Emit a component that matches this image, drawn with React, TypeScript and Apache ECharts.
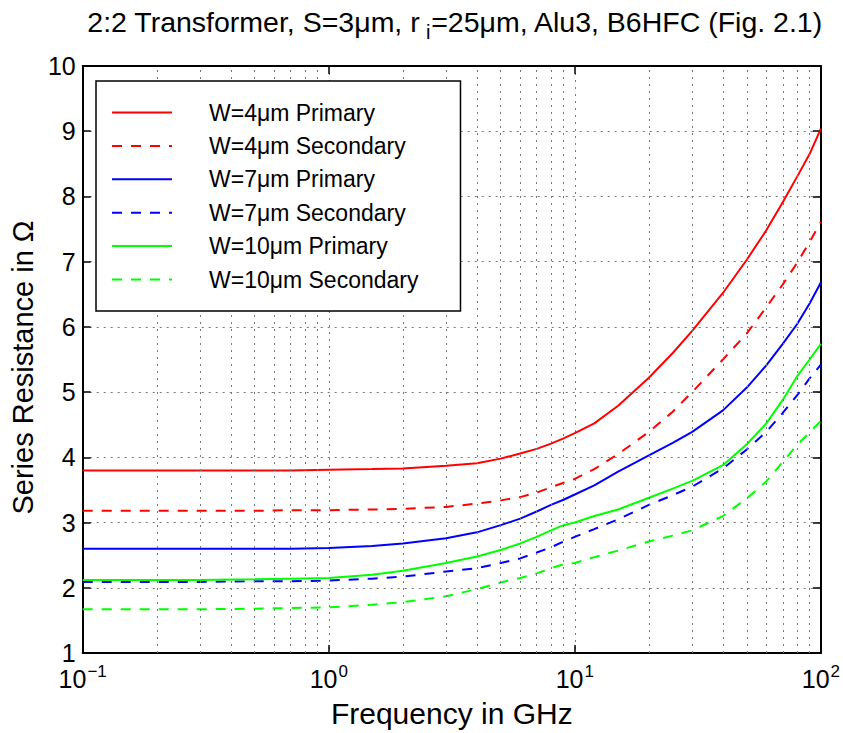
import React, { useEffect, useRef } from "react";
import * as echarts from "echarts";

const freqs = [0.1, 0.2, 0.3, 0.5, 0.7, 1, 1.5, 2, 3, 4, 5, 6, 7, 8, 9, 10, 12, 15, 20, 25, 30, 40, 50, 60, 70, 80, 90, 100];

const w4Primary = [3.80, 3.80, 3.80, 3.80, 3.80, 3.81, 3.82, 3.83, 3.87, 3.91, 3.98, 4.06, 4.13, 4.21, 4.29, 4.37, 4.52, 4.79, 5.22, 5.60, 5.94, 6.52, 7.03, 7.48, 7.91, 8.30, 8.65, 9.04];
const w4Secondary = [3.18, 3.18, 3.18, 3.18, 3.19, 3.19, 3.20, 3.21, 3.24, 3.29, 3.34, 3.39, 3.46, 3.54, 3.61, 3.67, 3.82, 4.05, 4.39, 4.70, 5.00, 5.50, 5.90, 6.30, 6.65, 6.98, 7.30, 7.61];
const w7Primary = [2.60, 2.60, 2.60, 2.60, 2.60, 2.61, 2.64, 2.68, 2.76, 2.85, 2.96, 3.06, 3.17, 3.27, 3.35, 3.43, 3.57, 3.78, 4.03, 4.22, 4.39, 4.72, 5.07, 5.41, 5.74, 6.04, 6.36, 6.68];
const w7Secondary = [2.09, 2.09, 2.09, 2.10, 2.10, 2.11, 2.14, 2.17, 2.25, 2.30, 2.38, 2.45, 2.54, 2.62, 2.71, 2.78, 2.90, 3.05, 3.27, 3.42, 3.55, 3.83, 4.12, 4.39, 4.68, 4.95, 5.21, 5.42];
const w10Primary = [2.12, 2.12, 2.12, 2.13, 2.14, 2.15, 2.20, 2.26, 2.38, 2.48, 2.58, 2.68, 2.78, 2.88, 2.96, 3.00, 3.10, 3.20, 3.38, 3.52, 3.64, 3.88, 4.20, 4.52, 4.88, 5.24, 5.50, 5.74];
const w10Secondary = [1.67, 1.67, 1.67, 1.68, 1.69, 1.70, 1.74, 1.78, 1.87, 1.98, 2.08, 2.15, 2.22, 2.30, 2.36, 2.38, 2.47, 2.57, 2.71, 2.80, 2.88, 3.10, 3.37, 3.63, 3.93, 4.19, 4.38, 4.56];

const seriesNames = [
  "W=4μm Primary",
  "W=4μm Secondary",
  "W=7μm Primary",
  "W=7μm Secondary",
  "W=10μm Primary",
  "W=10μm Secondary",
];
const seriesValues = [w4Primary, w4Secondary, w7Primary, w7Secondary, w10Primary, w10Secondary];
const seriesColors = ["#ff0000", "#ff0000", "#0000ff", "#0000ff", "#00ff00", "#00ff00"];
const seriesDashed = [false, true, false, true, false, true];

const minorGridFreqs = [0.2, 0.3, 0.4, 0.5, 0.6, 0.7, 0.8, 0.9, 2, 3, 4, 5, 6, 7, 8, 9, 20, 30, 40, 50, 60, 70, 80, 90];

const FONT = "Liberation Sans, Arial, Helvetica, sans-serif";
const DOT: any = { type: [2, 5], color: "#777", width: 1 };

export default function App() {
  const ref = useRef<HTMLDivElement>(null);
  useEffect(() => {
    document.body.style.margin = "0";
    const chart = echarts.init(ref.current!, undefined, { renderer: "svg" });
    const expLabel = (v: number) => {
      const e = Math.round(Math.log10(v));
      const s = e < 0 ? "−" + -e : String(e);
      return "{b|10}{e|" + s + "}";
    };
    const lineSeries = seriesNames.map((name, i) => ({
      name,
      type: "line",
      data: freqs.map((f, j) => [f, seriesValues[i][j]]),
      symbol: "none",
      showSymbol: false,
      smooth: false,
      z: 3,
      lineStyle: {
        color: seriesColors[i],
        width: 2,
        type: seriesDashed[i] ? [10, 9] : "solid",
      },
      itemStyle: { color: seriesColors[i] },
    }));
    chart.setOption({
      animation: false,
      backgroundColor: "#fff",
      title: {
        text: "{a|2:2 Transformer, S=3μm, r}{s|i}{a|=25μm, Alu3, B6HFC (Fig. 2.1)}",
        left: 455,
        top: 7,
        padding: 0,
        textAlign: "center",
        textStyle: {
          fontWeight: "normal",
          rich: {
            a: { fontFamily: FONT, fontSize: 28.5, fontWeight: "normal", color: "#000", lineHeight: 30, verticalAlign: "top" },
            s: { fontFamily: FONT, fontSize: 20, fontWeight: "normal", color: "#000", lineHeight: 35, padding: [0, 0, 0, 6], verticalAlign: "bottom" },
          },
        },
      },
      legend: {
        data: seriesNames,
        orient: "vertical",
        left: 96,
        top: 81,
        padding: [20, 42, 20, 15],
        itemWidth: 60,
        itemHeight: 14,
        itemGap: 10.4,
        borderColor: "#000",
        borderWidth: 1.5,
        backgroundColor: "#fff",
        borderRadius: 0,
        itemStyle: { opacity: 0 },
        textStyle: {
          fontFamily: FONT,
          fontSize: 23,
          color: "#000",
          padding: [0, 0, 0, 32],
          lineHeight: 23,
        },
        z: 10,
      },
      grid: { left: 77, right: 20, top: 66, bottom: 78, containLabel: false },
      xAxis: [
        {
          type: "log",
          logBase: 10,
          min: 0.1,
          max: 100,
          name: "Frequency in GHz",
          nameLocation: "middle",
          nameGap: 45,
          nameTextStyle: { fontFamily: FONT, fontSize: 30, color: "#000" },
          axisLine: { show: true, lineStyle: { color: "#000", width: 2 } },
          axisTick: { show: true, inside: true, length: 8, lineStyle: { color: "#000", width: 1.5 } },
          axisLabel: {
            formatter: expLabel,
            margin: 10,
            rich: {
              b: { fontFamily: FONT, fontSize: 25, color: "#000" },
              e: { fontFamily: FONT, fontSize: 17, color: "#000", padding: [0, 0, 14, 1] },
            },
          },
          splitLine: { show: true, lineStyle: DOT },
        },
        {
          type: "log",
          logBase: 10,
          min: 0.1,
          max: 100,
          position: "top",
          axisLine: { show: true, lineStyle: { color: "#000", width: 2 } },
          axisTick: { show: true, inside: true, length: 8, lineStyle: { color: "#000", width: 1.5 } },
          axisLabel: { show: false },
          splitLine: { show: false },
        },
      ],
      yAxis: [
        {
          type: "value",
          min: 1,
          max: 10,
          interval: 1,
          name: "Series Resistance in Ω",
          nameLocation: "middle",
          nameGap: 38,
          nameTextStyle: { fontFamily: FONT, fontSize: 29, color: "#000", padding: [0, 16, 0, 0] },
          axisLine: { show: true, lineStyle: { color: "#000", width: 2 } },
          axisTick: { show: true, inside: true, length: 8, lineStyle: { color: "#000", width: 1.5 } },
          axisLabel: { fontFamily: FONT, fontSize: 25, color: "#000", margin: 7 },
          splitLine: { show: true, lineStyle: DOT },
        },
        {
          type: "value",
          min: 1,
          max: 10,
          interval: 1,
          position: "right",
          axisLine: { show: true, lineStyle: { color: "#000", width: 2 } },
          axisTick: { show: true, inside: true, length: 8, lineStyle: { color: "#000", width: 1.5 } },
          axisLabel: { show: false },
          splitLine: { show: false },
        },
      ],
      series: [
        {
          name: "minor-grid",
          type: "line",
          data: [],
          z: 1,
          silent: true,
          markLine: {
            silent: true,
            symbol: "none",
            label: { show: false },
            lineStyle: DOT,
            emphasis: { disabled: true },
            data: minorGridFreqs.map((f) => ({ xAxis: f })),
          },
        },
        ...lineSeries,
      ],
    });
    return () => chart.dispose();
  }, []);
  return <div ref={ref} style={{ width: 843, height: 733 }} />;
}
